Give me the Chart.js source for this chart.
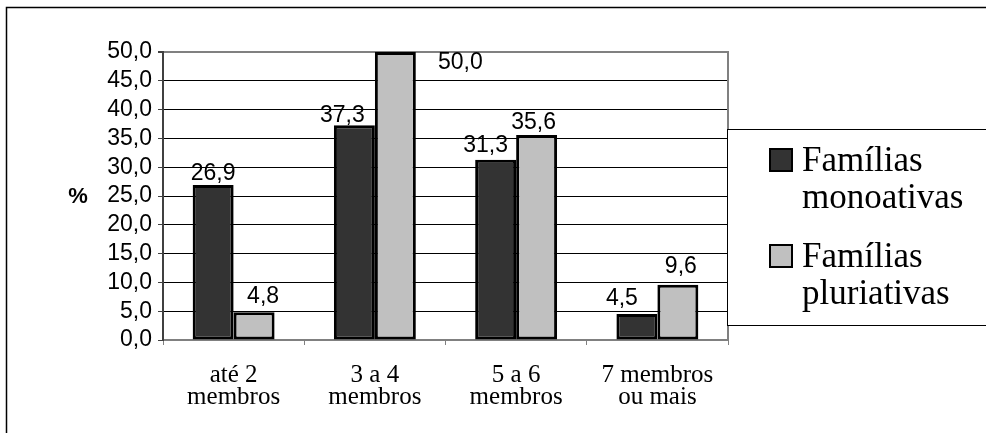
<!DOCTYPE html>
<html>
<head>
<meta charset="utf-8">
<script src="https://cdn.jsdelivr.net/npm/chart.js@4.4.1/dist/chart.umd.min.js"></script>
<style>
  html, body { margin: 0; padding: 0; background: #fff; }
  #wrap { width: 986px; height: 433px; }
</style>
</head>
<body>
<div id="wrap"><canvas id="chart" width="986" height="433"></canvas></div>
<script>
// data
let categories = [["até 2", "membros"], ["3 a 4", "membros"], ["5 a 6", "membros"], ["7 membros", "ou mais"]];
let monoativas = [26.9, 37.3, 31.3, 4.5];
let pluriativas = [4.8, 50.0, 35.6, 9.6];
let seriesNames = ["Famílias monoativas", "Famílias pluriativas"];
let yTicks = [0, 5, 10, 15, 20, 25, 30, 35, 40, 45, 50];

// label nudges (px), as placed in the original
let labelDx = [[0, -12, -10, -15], [9, 65, -3, 3]];
let labelGap = [[5, 3, 8, 9], [9, -17, 6, 12]];

let colors = ["#333333", "#c0c0c0"];

function fmt(v) {
    return v.toFixed(1).replace(".", ",");
}

let ctx = document.getElementById("chart").getContext("2d");

let extras = {
    id: "extras",
    afterDatasetsDraw(chart) {
        let c = chart.ctx;
        let area = chart.chartArea;
        // right border of plot
        c.save();
        c.strokeStyle = "#808080";
        c.lineWidth = 2;
        c.beginPath();
        c.moveTo(area.right, area.top - 1);
        c.lineTo(area.right, area.bottom);
        c.stroke();
        c.restore();

        // value labels
        c.save();
        c.font = "23px 'Liberation Sans', Arial, sans-serif";
        c.fillStyle = "#000";
        c.textAlign = "center";
        c.textBaseline = "alphabetic";
        chart.data.datasets.forEach((ds, i) => {
            chart.getDatasetMeta(i).data.forEach((bar, j) => {
                c.fillText(fmt(ds.data[j]), bar.x + labelDx[i][j], bar.y - labelGap[i][j]);
            });
        });
        c.restore();
    },
    afterDraw(chart) {
        let c = chart.ctx;
        let area = chart.chartArea;
        c.save();
        // outer frame
        c.strokeStyle = "#000";
        c.lineWidth = 1.5;
        c.strokeRect(6.5, 7.5, 1000, 440);

        // "%" axis title
        c.font = "bold 22px 'Liberation Sans', Arial, sans-serif";
        c.fillStyle = "#000";
        c.textAlign = "center";
        c.textBaseline = "middle";
        c.fillText("%", 78, (area.top + area.bottom) / 2 + 1);

        // legend box
        let lx = area.right - 1, ly = 129, lh = 196;
        c.fillStyle = "#fff";
        c.fillRect(lx, ly, 400, lh);
        c.strokeStyle = "#000";
        c.lineWidth = 1;
        c.strokeRect(lx + 0.5, ly + 0.5, 400, lh);

        c.font = "35px 'Liberation Serif', 'Times New Roman', serif";
        c.textAlign = "left";
        c.textBaseline = "alphabetic";
        let rows = [171, 267];
        chart.data.datasets.forEach((ds, i) => {
            let base = rows[i];
            c.fillStyle = ds.backgroundColor;
            c.fillRect(770, base - 22, 22, 22);
            c.strokeStyle = "#000";
            c.lineWidth = 2;
            c.strokeRect(770, base - 22, 22, 22);
            c.fillStyle = "#000";
            ds.label.split(" ").forEach((line, k) => {
                c.fillText(line, 802, base + k * 37);
            });
        });
        c.restore();
    }
};

let chart = new Chart(ctx, {
    type: "bar",
    data: {
        labels: categories,
        datasets: [{
            label: seriesNames[0],
            data: monoativas,
            backgroundColor: colors[0],
            borderColor: "#000",
            borderWidth: 3,
            borderSkipped: false,
            categoryPercentage: 0.58,
            barPercentage: 1.0
        }, {
            label: seriesNames[1],
            data: pluriativas,
            backgroundColor: colors[1],
            borderColor: "#000",
            borderWidth: 3,
            borderSkipped: false,
            categoryPercentage: 0.58,
            barPercentage: 1.0
        }]
    },
    options: {
        responsive: false,
        animation: false,
        events: [],
        layout: { padding: { top: 52, right: 258, left: 0, bottom: 0 } },
        plugins: {
            legend: { display: false },
            tooltip: { enabled: false }
        },
        scales: {
            x: {
                afterFit: s => { s.height = 93; },
                border: { color: "#808080", width: 2 },
                grid: {
                    display: true,
                    drawOnChartArea: false,
                    tickLength: 5,
                    tickColor: "#808080",
                    offset: true
                },
                ticks: {
                    color: "#000",
                    padding: 19,
                    maxRotation: 0,
                    autoSkip: false,
                    font: { family: "'Liberation Serif', 'Times New Roman', serif", size: 25, lineHeight: 0.9 }
                }
            },
            y: {
                min: 0,
                max: 50,
                afterFit: s => { s.width = 163; },
                afterBuildTicks: s => { s.ticks = yTicks.map(v => ({ value: v })); },
                border: { color: "#404040", width: 2 },
                grid: {
                    color: c => (c.tick && c.tick.value === 50 ? "#808080" : "#000"),
                    lineWidth: c => (c.tick && c.tick.value === 50 ? 2 : 1),
                    tickLength: 5,
                    tickColor: "#404040"
                },
                ticks: {
                    color: "#000",
                    padding: 6,
                    autoSkip: false,
                    callback: v => fmt(v),
                    font: { family: "'Liberation Sans', Arial, sans-serif", size: 23 }
                }
            }
        }
    },
    plugins: [extras]
});
</script>
</body>
</html>
